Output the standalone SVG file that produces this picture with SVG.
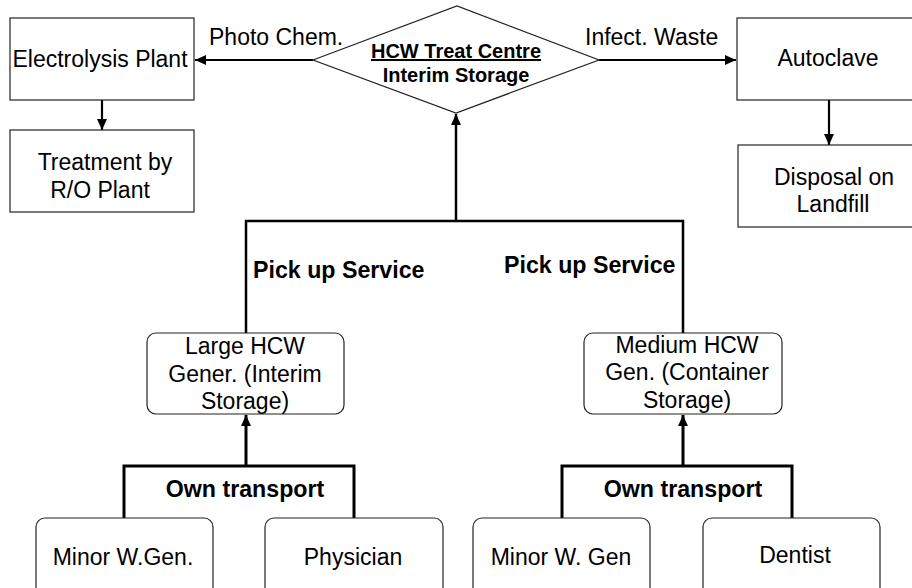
<svg xmlns="http://www.w3.org/2000/svg" width="912" height="588" viewBox="0 0 912 588">
<style>
.box{fill:#fff;stroke:#222;stroke-width:1.2}
.t{font-family:"Liberation Sans",Arial,sans-serif;font-size:23px;fill:#000;text-anchor:middle}
.b{font-family:"Liberation Sans",Arial,sans-serif;font-size:23.2px;font-weight:bold;fill:#000}
.d{font-family:"Liberation Sans",Arial,sans-serif;font-size:20px;font-weight:bold;fill:#000;text-anchor:middle}
.c{fill:none;stroke:#000}
</style>
<defs>
<marker id="ah" markerUnits="userSpaceOnUse" markerWidth="12" markerHeight="10" refX="11" refY="5" orient="auto">
<path d="M0,0 L11,5 L0,10 Z" fill="#000"/>
</marker>
</defs>
<rect width="912" height="588" fill="#fff"/>
<g id="connectors">
<line class="c" stroke-width="2.2" x1="313" y1="60" x2="195" y2="60" marker-end="url(#ah)"/>
<line class="c" stroke-width="2.2" x1="599" y1="60" x2="736" y2="60" marker-end="url(#ah)"/>
<line class="c" stroke-width="2.2" x1="102" y1="100" x2="102" y2="130" marker-end="url(#ah)"/>
<line class="c" stroke-width="2.2" x1="829" y1="100" x2="829" y2="145" marker-end="url(#ah)"/>
<polyline class="c" stroke-width="2.5" points="246,333 246,221 683,221 683,333"/>
<line class="c" stroke-width="2.5" x1="456" y1="221" x2="456" y2="114" marker-end="url(#ah)"/>
<polyline class="c" stroke-width="3" points="124,518 124,466 354,466 354,518"/>
<line class="c" stroke-width="3" x1="246" y1="466" x2="246" y2="415" marker-end="url(#ah)"/>
<polyline class="c" stroke-width="3" points="562,518 562,466 792,466 792,518"/>
<line class="c" stroke-width="3" x1="683" y1="466" x2="683" y2="415" marker-end="url(#ah)"/>
<text class="t" x="209" y="45" style="text-anchor:start">Photo Chem.</text>
<text class="t" x="585" y="45" style="text-anchor:start">Infect. Waste</text>
<text class="b" x="253" y="278">Pick up Service</text>
<text class="b" x="504" y="273">Pick up Service</text>
<text class="b" x="245" y="497" style="text-anchor:middle">Own transport</text>
<text class="b" x="683" y="497" style="text-anchor:middle">Own transport</text>
</g>
<g id="hcw-centre">
<polygon points="313,60 457,6 599,60 456,113" fill="#fff" stroke="#222" stroke-width="1.2"/>
<text class="d" x="456" y="58" text-decoration="underline">HCW Treat Centre</text>
<text class="d" x="456" y="82">Interim Storage</text>
</g>
<g id="electrolysis">
<rect class="box" x="10" y="18" width="184" height="82"/>
<text class="t" x="100" y="67">Electrolysis Plant</text>
</g>
<g id="treatment">
<rect class="box" x="10" y="130" width="184" height="82"/>
<text class="t" x="105" y="170">Treatment by</text>
<text class="t" x="100" y="198">R/O Plant</text>
</g>
<g id="autoclave">
<rect class="box" x="737" y="18" width="180" height="82"/>
<text class="t" x="828" y="66">Autoclave</text>
</g>
<g id="disposal">
<rect class="box" x="738" y="145" width="180" height="82"/>
<text class="t" x="834" y="185">Disposal on</text>
<text class="t" x="833" y="212">Landfill</text>
</g>
<g id="large-hcw">
<rect class="box" x="147" y="333" width="197" height="81" rx="9"/>
<text class="t" x="245" y="354">Large HCW</text>
<text class="t" x="245" y="382">Gener. (Interim</text>
<text class="t" x="245" y="409">Storage)</text>
</g>
<g id="medium-hcw">
<rect class="box" x="584" y="333" width="198" height="81" rx="9"/>
<text class="t" x="687" y="353">Medium HCW</text>
<text class="t" x="687" y="380">Gen. (Container</text>
<text class="t" x="687" y="408">Storage)</text>
</g>
<g id="minor-wgen-1">
<rect class="box" x="36" y="518" width="177" height="90" rx="9"/>
<text class="t" x="123" y="565">Minor W.Gen.</text>
</g>
<g id="physician">
<rect class="box" x="265" y="518" width="178" height="90" rx="9"/>
<text class="t" x="353" y="565">Physician</text>
</g>
<g id="minor-wgen-2">
<rect class="box" x="473" y="518" width="177" height="90" rx="9"/>
<text class="t" x="561" y="565">Minor W. Gen</text>
</g>
<g id="dentist">
<rect class="box" x="703" y="518" width="177" height="90" rx="9"/>
<text class="t" x="795" y="563">Dentist</text>
</g>
</svg>
